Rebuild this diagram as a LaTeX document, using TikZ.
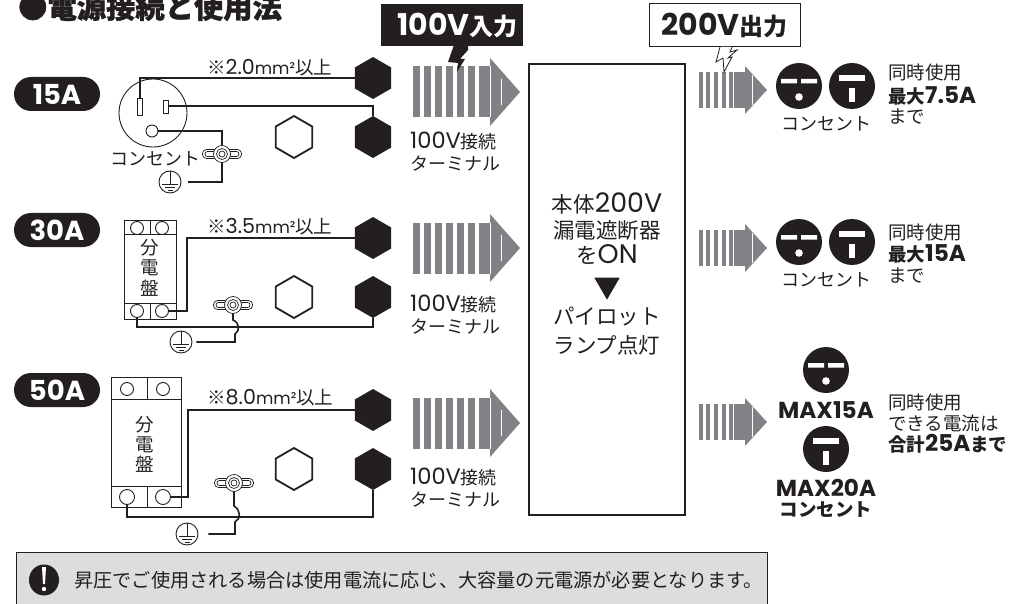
\documentclass[tikz,border=0pt]{standalone}
\usepackage{fontspec}
\setmainfont{Noto Sans CJK JP}
\newfontfamily\lat[Scale=1.25]{Poppins}
\usetikzlibrary{shapes.geometric}
\definecolor{stripegray}{HTML}{808285}
\definecolor{notegray}{HTML}{DCDDDE}
\definecolor{inkblack}{HTML}{231F20}
\newcommand{\wiresize}[1]{※{\lat\fontsize{16.5}{22}\selectfont #1}{\lat\fontsize{13.5}{22}\selectfont mm²}以上}
\tikzset{
  earthmark/.pic={
    \node[draw=inkblack, circle, line width=.9pt, minimum size=22pt, inner sep=0pt, fill=white] (c) at (0,0) {};
    \draw[inkblack, line width=.8pt] (0,-11) -- (0,2) (-8,2) -- (8,2) (-5,5) -- (5,5) (-2.5,8) -- (2.5,8);
  },
  clampmark/.pic={
    \draw[inkblack, line width=.7pt, fill=white, rounded corners=4pt] (-19.5,-4.5) rectangle (19.5,4.5);
    \draw[inkblack, line width=.7pt, rounded corners=2.5pt] (-17,-2.5) rectangle (17,2.5);
    \node[draw=inkblack, circle, fill=white, line width=.7pt, minimum size=17pt, inner sep=0pt] (c) at (0,0) {};
    \draw[inkblack, line width=.7pt] (0,0) circle (5.5) (0,0) circle (3);
  },
  outleta/.pic={
    \node[circle, fill=inkblack, minimum size=46pt, inner sep=0pt] (c) at (0,0) {};
    \fill[white] (-18,-7) rectangle (-2,-2.5) (2,-7) rectangle (18,-2.5);
    \fill[white] (0,11) circle (3.8);
  },
  outletb/.pic={
    \node[circle, fill=inkblack, minimum size=46pt, inner sep=0pt] (c) at (0,0) {};
    \fill[white] (-13,-11) rectangle (13,-5);
    \fill[white] (-3,2) rectangle (3,16);
  }
}
\begin{document}
\begin{tikzpicture}[x=1pt, y=-1pt, inkblack]
    \tikzstyle{lbl}=[font=\fontsize{18.5}{22}\selectfont, inner sep=0pt, text=inkblack]
    \tikzstyle{lbls}=[font=\fontsize{18}{22}\selectfont, inner sep=0pt, text=inkblack]
    \tikzstyle{lblb}=[font=\fontsize{18.5}{22}\selectfont\bfseries, inner sep=0pt, text=inkblack]
    \tikzstyle{lblm}=[font=\fontsize{21.5}{24}\selectfont, inner sep=0pt, text=inkblack]
    \tikzstyle{tagtext}=[font=\fontsize{24}{28}\selectfont\bfseries, inner sep=0pt]
    \tikzstyle{wire}=[draw=inkblack, line width=2pt]
    \tikzstyle{blackhex}=[regular polygon, regular polygon sides=6, shape border rotate=30, fill=inkblack, minimum size=42pt, inner sep=0pt, outer sep=0pt]
    \tikzstyle{whitehex}=[regular polygon, regular polygon sides=6, shape border rotate=30, draw=inkblack, line width=1.8pt, minimum size=42pt, inner sep=0pt]
    \tikzstyle{pill}=[rounded corners=17pt, fill=inkblack, text=white, minimum width=86pt, minimum height=34pt, inner sep=0pt, font=\lat\fontsize{22}{26}\selectfont\bfseries]
    \tikzstyle{thin}=[draw=inkblack, line width=.9pt]
    \tikzstyle{screw}=[circle, thin, fill=white, minimum size=13pt, inner sep=0pt]
    \useasboundingbox (0,0) rectangle (1033,604);

    % Title
    \node[font=\fontsize{29.3}{32}\selectfont\bfseries\addfontfeature{FakeBold=1.2}, anchor=west, inner sep=0pt, text=inkblack] (title) at (18,7) {●電源接続と使用法};

    % Stripe arrows
    \foreach \ym in {92,248,423} {
      \foreach \xs in {413,424,435,446,457,468}
        \fill[stripegray] (\xs,\ym-25.5) rectangle (\xs+6.8,\ym+25.5);
      \fill[stripegray] (479,\ym-25.5) rectangle (491,\ym+25.5);
      \fill[stripegray] (490,\ym-34) -- (520,\ym) -- (490,\ym+34) -- cycle;
      \draw[white, line width=.3pt] (490,\ym-25.5) -- (490,\ym+25.5) (501.5,\ym-13) -- (501.5,\ym+13);
    }
    \foreach \ym in {90,248,422} {
      \foreach \xs in {699,706,714,722,729}
        \fill[stripegray] (\xs,\ym-18) rectangle (\xs+3.8,\ym+18);
      \fill[stripegray] (734,\ym-18) rectangle (746,\ym+18);
      \fill[stripegray] (745,\ym-24) -- (767,\ym) -- (745,\ym+24) -- cycle;
      \draw[white, line width=.3pt] (752,\ym-15) -- (752,\ym+15);
    }

    % Input and output tags
    \node[fill=inkblack, minimum width=142pt, minimum height=42pt, inner sep=0pt] (inbox) at (452,25) {};
    \node[tagtext, text=white] (intext) at (457.5,26) {{\lat 100V}入力};
    \fill[inkblack] (454,45) -- (468,45) -- (468,50) -- (460,59) -- (465,59) -- (457,72) -- (458,63) -- (448,62) -- cycle;
    \node[tagtext, draw=inkblack, fill=white, line width=1pt, minimum width=151pt, minimum height=43pt] (outbox) at (724.5,25.5) {{\lat 200V}出力};
    \draw[inkblack, fill=white, line width=.8pt] (720,47) -- (716,62) -- (723,58) -- (724,72) -- (732,57) -- (728,58) -- (737,50) -- (730,52) -- (732,47);

    % Breaker box
    \node[draw=inkblack, line width=2.4pt, minimum width=156pt, minimum height=451pt, inner sep=0pt] (main) at (607,289.5) {};
    \node[lblm] (m1) at (607,203) {本体{\lat 200V}};
    \node[lblm] (m2) at (607,230) {漏電遮断器};
    \node[lblm] (m3) at (607,255) {を{\lat ON}};
    \node[isosceles triangle, isosceles triangle apex angle=60, shape border rotate=-90, fill=inkblack, minimum width=25pt, minimum height=22pt, inner sep=0pt] (m4) at (607,285) {};
    \node[lblm] (m5) at (607,317) {パイロット};
    \node[lblm] (m6) at (607,345) {ランプ点灯};

    % Terminals
    \foreach \n/\yt/\yb in {1/78/137, 2/238/297, 3/410/469} {
      \node[blackhex] (ta\n) at (373,\yt) {};
      \node[blackhex] (tb\n) at (373,\yb) {};
      \node[whitehex] (tc\n) at (294,\yb) {};
    }
    \foreach \n/\ya/\yb in {1/141/163, 2/303/326, 3/477/498}
      \node[lbls, align=left, anchor=west] (term\n) at (410,{(\ya+\yb)/2}) {{\lat 100V}接続\\ターミナル};

    % Current tags
    \node[pill] (a15) at (57,94) {15A};
    \node[pill] (a30) at (57,230) {30A};
    \node[pill] (a50) at (57,390) {50A};
    \node[lbl, anchor=west] (w1) at (207,68) {\wiresize{2.0}};
    \node[lbl, anchor=west] (w2) at (207,227) {\wiresize{3.5}};
    \node[lbl, anchor=west] (w3) at (207,398) {\wiresize{8.0}};

    % 15A socket
    \node[circle, thin, minimum size=68pt, inner sep=0pt] (sock) at (153,113) {};
    \node[thin, minimum width=5.5pt, minimum height=17pt, inner sep=0pt] (slotl) at (140,106.5) {};
    \node[thin, minimum width=5pt, minimum height=13pt, inner sep=0pt] (slotr) at (165.5,106.5) {};
    \node[circle, thin, minimum size=12pt, inner sep=0pt] (gnd) at (152,131) {};
    \node[lbls, anchor=west] (sockname) at (110,159) {コンセント};
    \pic (e1) at (170,182) {earthmark};
    \coordinate (k1) at (222,154);
    \draw[wire] (slotl.north) |- (ta1.west);
    \draw[wire] (slotr.east) -| (tb1.north);
    \draw[wire, shorten >=7pt] (gnd.east) -| (k1) |- (e1c.east);
    \pic at (k1) {clampmark};

    % 30A panel
    \node[thin, minimum width=52pt, minimum height=99pt, inner sep=0pt] (pan2) at (150,269.5) {};
    \draw[thin] (124,234) -- (176,234) (124,303) -- (176,303) (150,220) -- (150,234) (150,303) -- (150,319);
    \node[screw] (pa2) at (137,228) {};
    \node[screw] (pb2) at (162,228) {};
    \node[screw] (pl2) at (137,311) {};
    \node[screw] (pr2) at (162,311) {};
    \node[lbl] (pt2a) at (150,248) {分};
    \node[lbl] (pt2b) at (150,268) {電};
    \node[lbl] (pt2c) at (150,288) {盤};
    \coordinate (b2) at (187,311);
    \coordinate (r2) at (373,327);
    \pic (e2) at (181,342) {earthmark};
    \pic (k2) at (233,305) {clampmark};
    \draw[wire] (pr2.east) -- (b2) |- (ta2.west);
    \draw[wire] (pl2.south) |- (r2) -- (tb2.south);
    \draw[wire, line width=1.6pt, shorten >=4pt] (k2c.south) -- (233,320) .. controls (240,323) and (240,331) .. (235,334) -- (235,342) -- (e2c.east);

    % 50A panel
    \node[thin, minimum width=70pt, minimum height=130pt, inner sep=0pt] (pan3) at (146,442) {};
    \draw[thin] (111,399) -- (181,399) (111,486) -- (181,486) (147,377) -- (147,399) (147,486) -- (147,507);
    \node[screw, minimum size=13pt] (pa3) at (127,389) {};
    \node[screw, minimum size=13pt] (pb3) at (163,389) {};
    \node[screw, minimum size=15pt] (pl3) at (127,497) {};
    \node[screw, minimum size=15pt] (pr3) at (163,497) {};
    \node[lbl] (pt3a) at (145,425) {分};
    \node[lbl] (pt3b) at (145,445) {電};
    \node[lbl] (pt3c) at (145,464) {盤};
    \coordinate (b3) at (188,497);
    \coordinate (r3) at (373,517);
    \pic (e3) at (187,534) {earthmark};
    \pic (k3) at (234,483) {clampmark};
    \draw[wire] (pr3.east) -- (b3) |- (ta3.west);
    \draw[wire] (pl3.south) |- (r3) -- (tb3.south);
    \draw[wire, line width=1.6pt, shorten >=10pt] (k3c.south) -- (234,506) .. controls (241,510) and (241,519) .. (235,522) -- (235,534) -- (e3c.east);

    % Outlets
    \pic (o1a) at (799,86) {outleta};
    \pic (o1b) at (852,86) {outletb};
    \pic (o2a) at (799,242) {outleta};
    \pic (o2b) at (852,242) {outletb};
    \pic (o3a) at (826,370) {outleta};
    \pic (o3b) at (826,449) {outletb};
    \node[lbls] (c1) at (826,124) {コンセント};
    \node[lbls] (c2) at (826,280) {コンセント};
    \node[lblb, font=\lat\fontsize{18.5}{22}\selectfont\bfseries] (c3) at (826,410) {MAX15A};
    \node[lblb, align=center, font=\fontsize{18.5}{20}\selectfont\bfseries] (c4) at (826,498) {{\lat MAX20A}\\コンセント};

    % Current notes
    \node[lbl, anchor=west] (n1a) at (888,73) {同時使用};
    \node[lblb, anchor=west] (n1b) at (888,96) {最大{\lat 7.5A}};
    \node[lbl, anchor=west] (n1c) at (888,117) {まで};
    \node[lbl, anchor=west] (n2a) at (888,232) {同時使用};
    \node[lblb, anchor=west] (n2b) at (888,254) {最大{\lat 15A}};
    \node[lbl, anchor=west] (n2c) at (888,276) {まで};
    \node[lbl, anchor=west] (n3a) at (888,402) {同時使用};
    \node[lbl, anchor=west] (n3b) at (888,423) {できる電流は};
    \node[lblb, anchor=west] (n3c) at (888,444) {合計{\lat 25A}まで};

    % Note bar
    \fill[notegray] (16,552) rectangle (767,604);
    \draw[inkblack, line width=1pt] (16,606) -- (16,552) -- (767,552) -- (767,606);
    \node[ellipse, fill=inkblack, minimum width=30pt, minimum height=31pt, inner sep=0pt] (warn) at (44,580) {};
    \fill[white] (42,567) -- (46,567) -- (45,584) -- (43,584) -- cycle;
    \fill[white] (44,589) circle (2.2);
    \node[font=\fontsize{19.2}{22}\selectfont, inner sep=0pt, text=inkblack, anchor=west] (notetext) at (74,580) {昇圧でご使用される場合は使用電流に応じ、大容量の元電源が必要となります。};
\end{tikzpicture}
\end{document}
